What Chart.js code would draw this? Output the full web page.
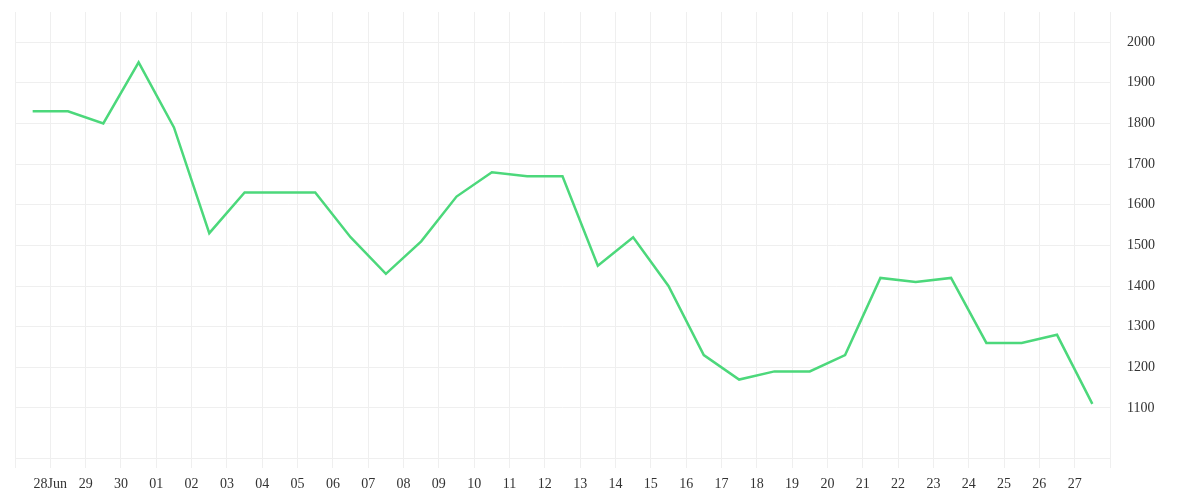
<!DOCTYPE html>
<html>
<head>
<meta charset="utf-8">
<script src="https://cdn.jsdelivr.net/npm/chart.js@4"></script>
<style>
  html, body { margin: 0; padding: 0; background: #fff; }
  #wrap { width: 1200px; height: 500px; }
</style>
</head>
<body>
<div id="wrap"><canvas id="chart"></canvas></div>
<script>
// days 27 Jun .. 27 Jul, one value per day
const days = ['27Jun', '28', '29', '30', '01', '02', '03', '04', '05', '06', '07', '08', '09', '10', '11',
    '12', '13', '14', '15', '16', '17', '18', '19', '20', '21', '22', '23', '24', '25', '26', '27']
const values = [1830, 1830, 1800, 1950, 1790, 1530, 1630, 1630, 1630, 1520, 1430, 1510, 1620, 1680, 1670,
    1670, 1450, 1520, 1400, 1230, 1170, 1190, 1190, 1230, 1420, 1410, 1420, 1260, 1260, 1280, 1110]
// labels on the day boundaries (first and last boundary left blank)
const xTickLabels = ['', '28Jun', '29', '30', '01', '02', '03', '04', '05', '06', '07', '08', '09', '10', '11', '12',
    '13', '14', '15', '16', '17', '18', '19', '20', '21', '22', '23', '24', '25', '26', '27', '']
const yTicks = [1100, 1200, 1300, 1400, 1500, 1600, 1700, 1800, 1900, 2000]

const points = values.map((v, i) => ({ x: i + 0.5, y: v }))
const gridColor = '#efefef'
const font = { family: '"Liberation Serif", serif', size: 14 }

const ctx = document.getElementById('chart')
const chart = new Chart(ctx, {
    type: 'line',
    data: {
        datasets: [{
            label: 'value',
            data: points,
            borderColor: '#4cd87b',
            borderWidth: 2.5,
            pointRadius: 0,
            tension: 0,
            fill: false
        }]
    },
    options: {
        responsive: true,
        maintainAspectRatio: false,
        animation: false,
        layout: { padding: { left: 15, top: 12, right: 0, bottom: 0 } },
        plugins: { legend: { display: false }, tooltip: { enabled: false } },
        scales: {
            x: {
                type: 'linear',
                min: 0,
                max: days.length,
                grid: { color: gridColor, tickLength: 10 },
                border: { color: gridColor },
                ticks: {
                    stepSize: 1,
                    autoSkip: false,
                    maxRotation: 0,
                    padding: 8,
                    color: '#333',
                    font: font,
                    callback: (v) => xTickLabels[v]
                },
                afterFit: (s) => { s.height = 42; s.paddingLeft = 0; s.paddingRight = 0 }
            },
            y: {
                position: 'right',
                min: 977,
                max: 2074,
                afterBuildTicks: (s) => { s.ticks = yTicks.map(v => ({ value: v })) },
                grid: { color: gridColor, drawTicks: false },
                border: { color: gridColor },
                ticks: {
                    padding: 17,
                    color: '#333',
                    font: font,
                    callback: (v) => String(v)
                },
                afterFit: (s) => { s.width = 90; s.paddingTop = 0; s.paddingBottom = 0 }
            }
        }
    }
})
</script>
</body>
</html>
